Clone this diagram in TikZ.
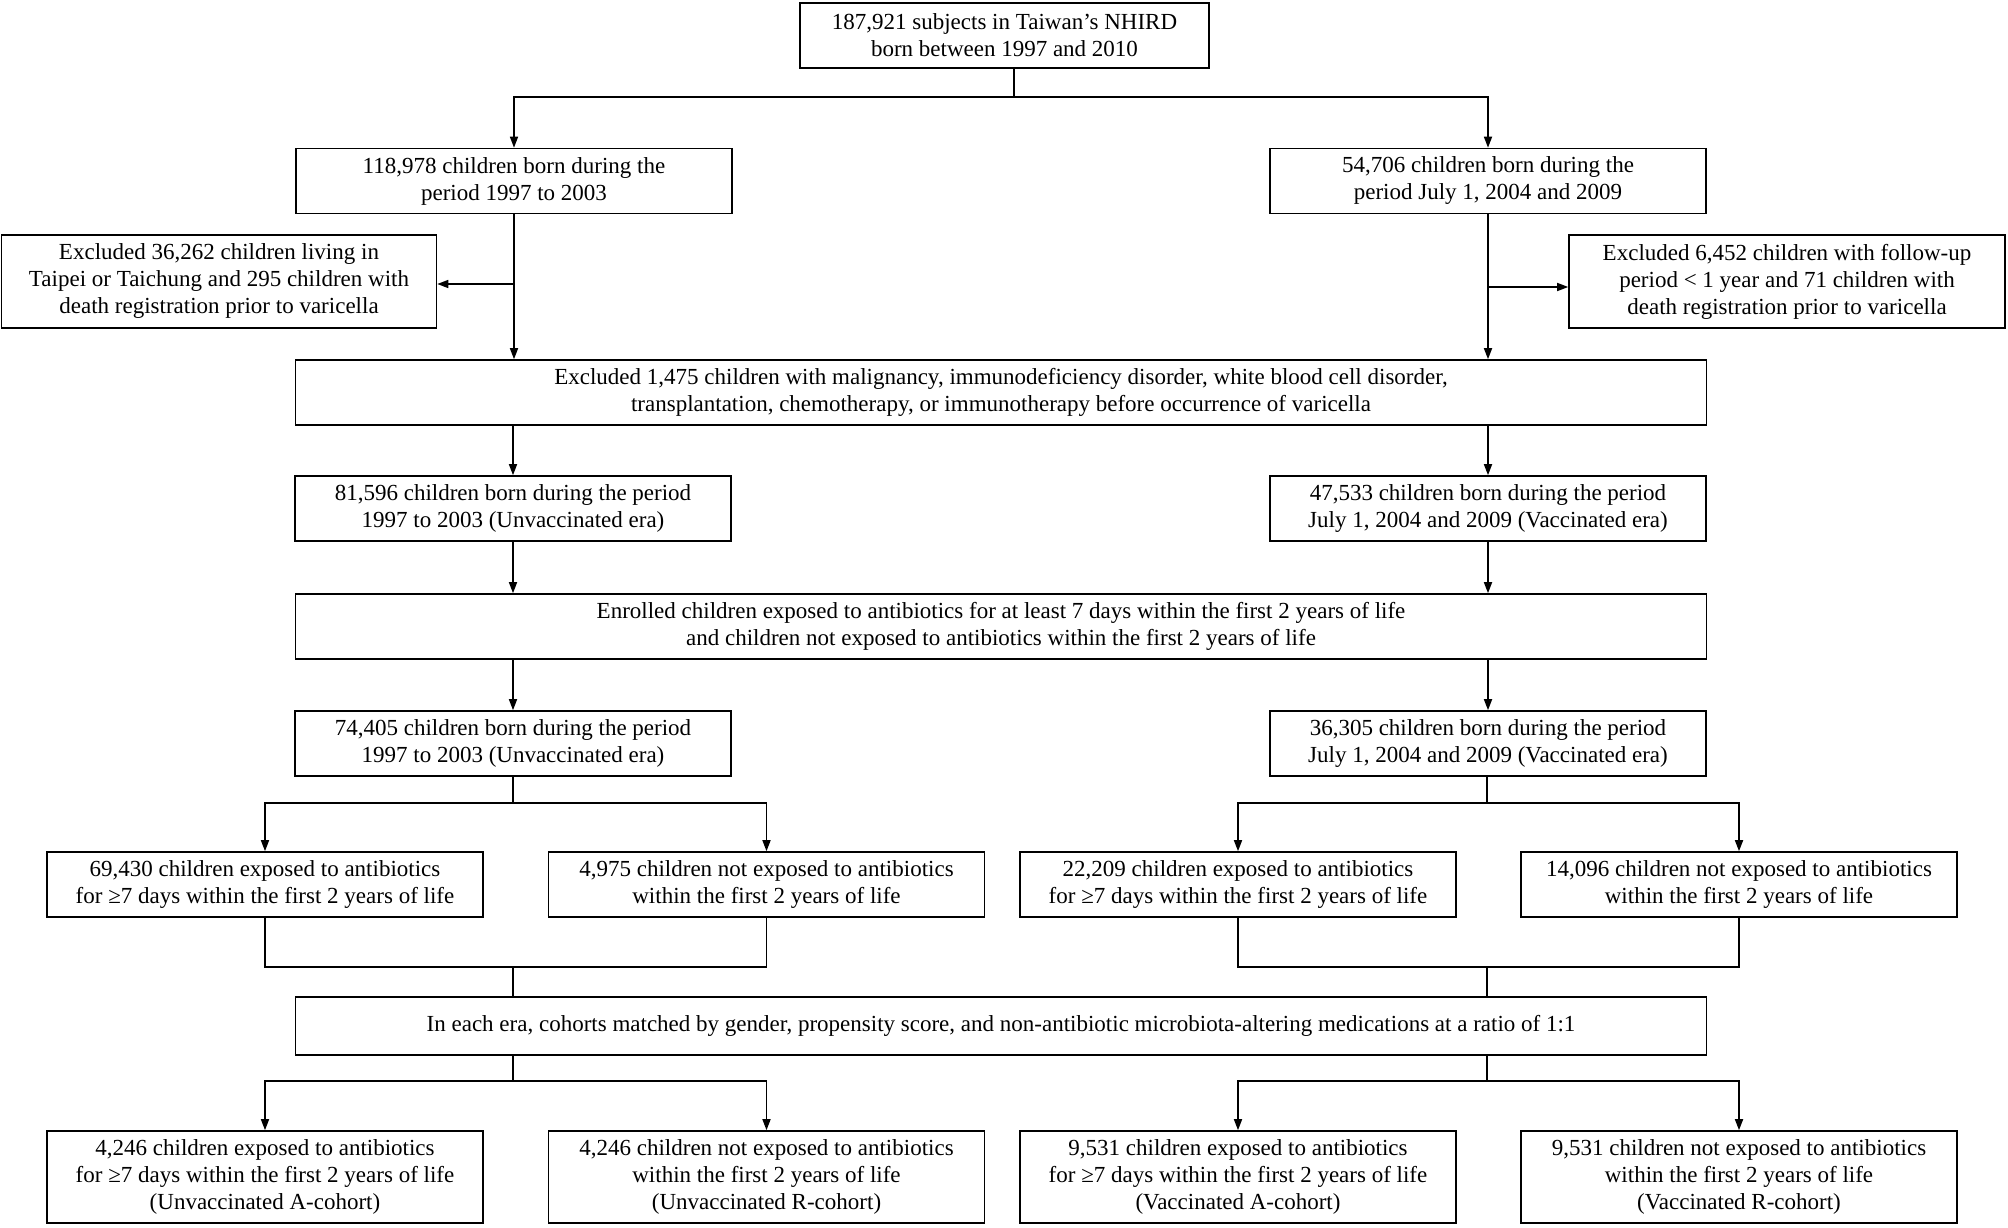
\documentclass[tikz,border=0pt]{standalone}
\usepackage{fontspec}
\setmainfont{Liberation Serif}
\usetikzlibrary{arrows.meta}
\begin{document}
\begin{tikzpicture}[x=1pt, y=-1pt, line width=1.6pt, line join=miter,
		font=\fontsize{23}{27}\selectfont,
		>={Triangle[length=11pt,width=8pt]},
		box/.style={draw, align=center, inner sep=0pt, minimum width=436pt, minimum height=65pt},
		tallbox/.style={box, minimum height=93pt},
		widebox/.style={box, minimum width=1411pt}]
		\useasboundingbox (0,0) rectangle (2008,1228);
		% top level
		\node[box, minimum width=409pt] (top) at (1004.5,35.5) {187,921 subjects in Taiwan’s NHIRD\\born between 1997 and 2010};
		\node[box] (bornL) at (514,181) {118,978 children born during the\\period 1997 to 2003};
		\node[box] (bornR) at (1488,181) {54,706 children born during the\\period July 1, 2004 and 2009};
		\node[tallbox, minimum width=435pt] (exclL) at (219,281.5) {Excluded 36,262 children living in\\Taipei or Taichung and 295 children with\\death registration prior to varicella};
		\node[tallbox] (exclR) at (1787,281.5) {Excluded 6,452 children with follow-up\\period < 1 year and 71 children with\\death registration prior to varicella};
		\node[widebox] (excl) at (1001,392.5) {Excluded 1,475 children with malignancy, immunodeficiency disorder, white blood cell disorder,\\transplantation, chemotherapy, or immunotherapy before occurrence of varicella};
		% eras
		\node[box] (eraL) at (513,508.5) {81,596 children born during the period\\1997 to 2003 (Unvaccinated era)};
		\node[box] (eraR) at (1488,508.5) {47,533 children born during the period\\July 1, 2004 and 2009 (Vaccinated era)};
		\node[widebox] (enrol) at (1001,626.5) {Enrolled children exposed to antibiotics for at least 7 days within the first 2 years of life\\and children not exposed to antibiotics within the first 2 years of life};
		\node[box] (enrL) at (513,743.5) {74,405 children born during the period\\1997 to 2003 (Unvaccinated era)};
		\node[box] (enrR) at (1488,743.5) {36,305 children born during the period\\July 1, 2004 and 2009 (Vaccinated era)};
		% exposure groups
		\node[box] (expL) at (265,884.5) {69,430 children exposed to antibiotics\\for ≥7 days within the first 2 years of life};
		\node[box] (nexL) at (766.5,884.5) {4,975 children not exposed to antibiotics\\within the first 2 years of life};
		\node[box] (expR) at (1238,884.5) {22,209 children exposed to antibiotics\\for ≥7 days within the first 2 years of life};
		\node[box] (nexR) at (1739,884.5) {14,096 children not exposed to antibiotics\\within the first 2 years of life};
		\node[widebox, minimum height=58pt] (match) at (1001,1026) {In each era, cohorts matched by gender, propensity score, and non-antibiotic microbiota-altering medications at a ratio of 1:1};
		% cohorts
		\node[tallbox, minimum height=92pt] (cohAL) at (265,1177) {4,246 children exposed to antibiotics\\for ≥7 days within the first 2 years of life\\(Unvaccinated A-cohort)};
		\node[tallbox, minimum height=92pt] (cohRL) at (766.5,1177) {4,246 children not exposed to antibiotics\\within the first 2 years of life\\(Unvaccinated R-cohort)};
		\node[tallbox, minimum height=92pt] (cohAR) at (1238,1177) {9,531 children exposed to antibiotics\\for ≥7 days within the first 2 years of life\\(Vaccinated A-cohort)};
		\node[tallbox, minimum height=92pt] (cohRR) at (1739,1177) {9,531 children not exposed to antibiotics\\within the first 2 years of life\\(Vaccinated R-cohort)};
		% junctions
		\coordinate (j0) at (1014,97);
		\coordinate (sL) at (513,803);   \coordinate (sR) at (1487,803);
		\coordinate (mL) at (513,967);   \coordinate (mR) at (1487,967);
		\coordinate (tL) at (513,1081);  \coordinate (tR) at (1487,1081);
		% connectors
		\draw (top.south -| j0) -- (j0);
		\draw[->] (j0) -| (bornL.north);
		\draw[->] (j0) -| (bornR.north);
		\draw[->] (bornL.south) -- (excl.north -| bornL.south);
		\draw[->] (bornR.south) -- (excl.north -| bornR.south);
		\draw[->] (bornL.south |- 0,284) -- (exclL.east |- 0,284);
		\draw[->] (bornR.south |- 0,287) -- (exclR.west |- 0,287);
		\draw[->] (excl.south -| eraL.north) -- (eraL.north);
		\draw[->] (excl.south -| eraR.north) -- (eraR.north);
		\draw[->] (eraL.south) -- (enrol.north -| eraL.south);
		\draw[->] (eraR.south) -- (enrol.north -| eraR.south);
		\draw[->] (enrol.south -| enrL.north) -- (enrL.north);
		\draw[->] (enrol.south -| enrR.north) -- (enrR.north);
		\draw (enrL.south -| sL) -- (sL);
		\draw (enrR.south -| sR) -- (sR);
		\draw[->] (sL) -| (expL.north);
		\draw[->] (sL) -| (nexL.north);
		\draw[->] (sR) -| (expR.north);
		\draw[->] (sR) -| (nexR.north);
		\draw (expL.south) |- (mL) -| (nexL.south);
		\draw (expR.south) |- (mR) -| (nexR.south);
		\draw (mL) -- (match.north -| mL);
		\draw (mR) -- (match.north -| mR);
		\draw (match.south -| tL) -- (tL);
		\draw (match.south -| tR) -- (tR);
		\draw[->] (tL) -| (cohAL.north);
		\draw[->] (tL) -| (cohRL.north);
		\draw[->] (tR) -| (cohAR.north);
		\draw[->] (tR) -| (cohRR.north);
\end{tikzpicture}
\end{document}
